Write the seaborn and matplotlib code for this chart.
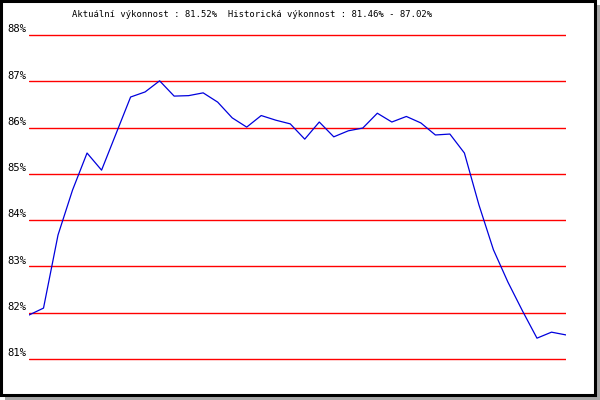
import matplotlib
matplotlib.use("Agg")
import matplotlib.pyplot as plt
import matplotlib.transforms as mtransforms
from matplotlib.patches import Rectangle
import seaborn as sns
import pandas as pd
import numpy as np

# ---- data ----
values = [81.95, 82.10, 83.68, 84.65, 85.45, 85.08, 85.87, 86.66, 86.77, 87.01,
          86.68, 86.69, 86.75, 86.55, 86.21, 86.01, 86.26, 86.16, 86.08, 85.75,
          86.12, 85.80, 85.93, 85.99, 86.31, 86.12, 86.24, 86.10, 85.84, 85.86,
          85.45, 84.33, 83.36, 82.66, 82.04, 81.45, 81.58, 81.52]
yticks = [81, 82, 83, 84, 85, 86, 87, 88]
ytick_labels = ["81%", "82%", "83%", "84%", "85%", "86%", "87%", "88%"]
title = "Aktuální výkonnost : 81.52%  Historická výkonnost : 81.46% - 87.02%"

df = pd.DataFrame({"idx": np.arange(len(values)), "value": values})

sns.set_style("white")
plt.rcParams["font.family"] = ["DejaVu Sans Mono"]

W, H = 600, 400
fig = plt.figure(figsize=(6, 4), dpi=100)
fig.patch.set_facecolor("white")

# shadow + frame
fig.patches.append(Rectangle((5 / W, 0), 595 / W, 395 / H, transform=fig.transFigure,
                             facecolor="#a8a8a8", edgecolor="none", zorder=0))
fig.patches.append(Rectangle((1 / W, 5.5 / H), 594 / W, 393.5 / H, transform=fig.transFigure,
                             facecolor="white", edgecolor="black", linewidth=2.2, zorder=1))

# axes: x 29..566, y 30..364 px (81% at 359, 88% at 35)
pad = 5 / 46.29
ax = fig.add_axes([29 / W, 1 - 364 / H, (566 - 29) / W, (364 - 30) / H])
ax.set_facecolor("none")
ax.set_zorder(2)

sns.lineplot(data=df, x="idx", y="value", ax=ax, color="#0000dd", linewidth=0.9,
             zorder=3)

ax.set_xlim(0, len(values) - 1)
ax.set_ylim(81 - pad, 88 + pad)
ax.set_yticks(yticks)
ax.set_yticklabels(ytick_labels)
ax.set_xticks([])
ax.set_xlabel("")
ax.set_ylabel("")
for s in ax.spines.values():
    s.set_visible(False)
ax.yaxis.grid(True, color="#ff0000", linewidth=1.0)
ax.xaxis.grid(False)
ax.set_axisbelow(True)
ax.tick_params(axis="y", length=0, pad=2, labelsize=7.6, labelcolor="black")
offset = mtransforms.ScaledTranslation(0, 2 / 72, fig.dpi_scale_trans)
for lab in ax.get_yticklabels():
    lab.set_verticalalignment("baseline")
    lab.set_transform(lab.get_transform() + offset)

fig.text(72 / W, 1 - 17 / H, title, ha="left", va="baseline", fontsize=6.4,
         color="black", zorder=5)

fig.savefig("out.png", dpi=100)
